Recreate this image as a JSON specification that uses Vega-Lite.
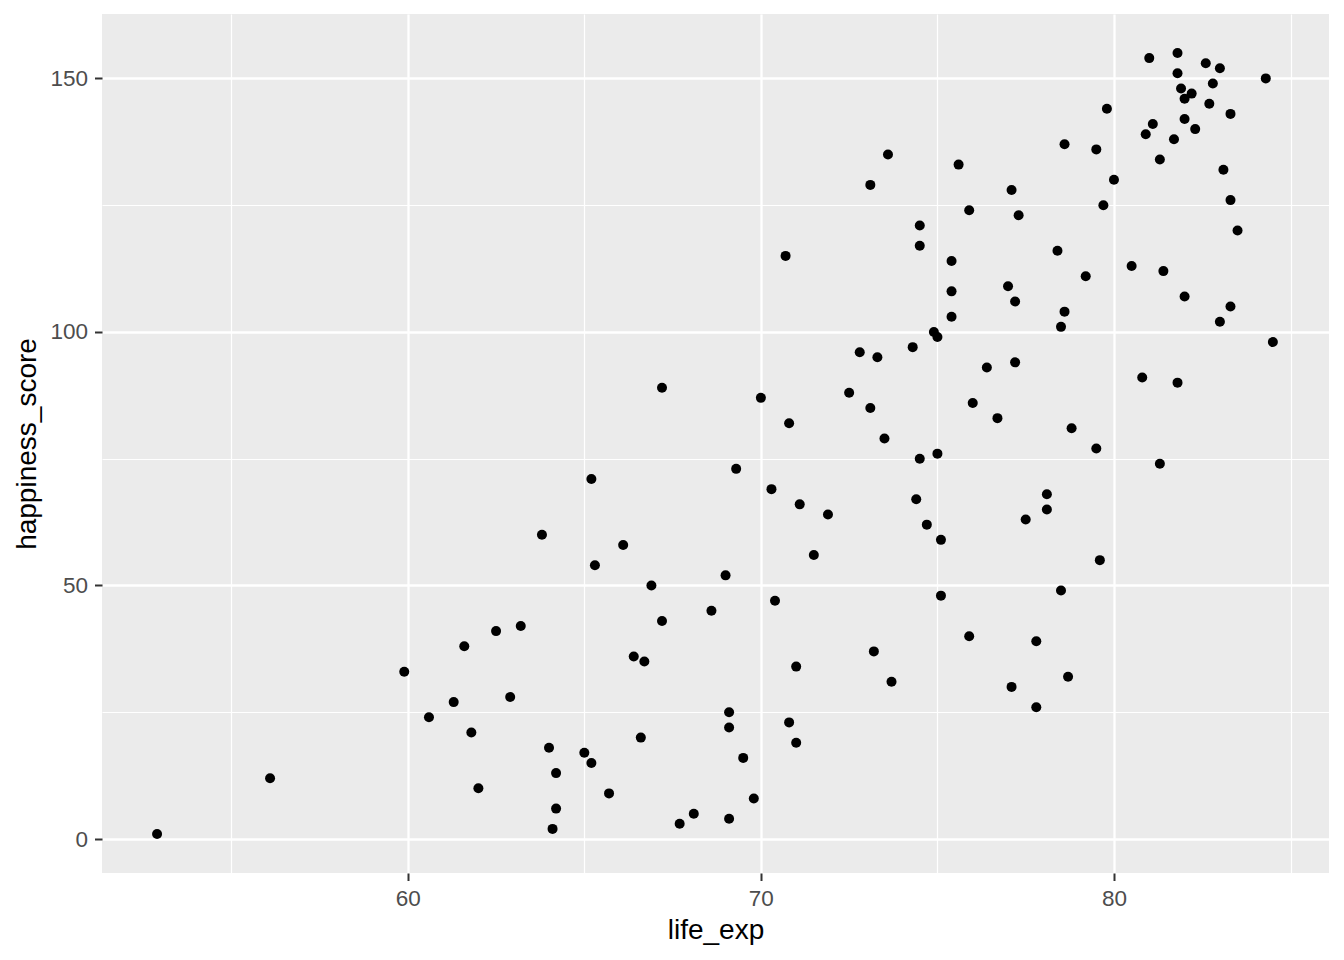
{
  "$schema": "https://vega.github.io/schema/vega-lite/v6.json",
  "width": 1227,
  "height": 859,
  "autosize": {"type": "none"},
  "padding": {"left": 102, "top": 14, "right": 15, "bottom": 87},
  "background": "white",
  "config": {
    "view": {"fill": "#EBEBEB", "stroke": null},
    "font": "Liberation Sans"
  },
  "data": {
    "values": [
      {"life_exp": 52.9, "happiness_score": 1},
      {"life_exp": 56.1, "happiness_score": 12},
      {"life_exp": 59.9, "happiness_score": 33},
      {"life_exp": 60.6, "happiness_score": 24},
      {"life_exp": 61.3, "happiness_score": 27},
      {"life_exp": 61.6, "happiness_score": 38},
      {"life_exp": 61.8, "happiness_score": 21},
      {"life_exp": 62.0, "happiness_score": 10},
      {"life_exp": 62.5, "happiness_score": 41},
      {"life_exp": 62.9, "happiness_score": 28},
      {"life_exp": 63.2, "happiness_score": 42},
      {"life_exp": 63.8, "happiness_score": 60},
      {"life_exp": 64.0, "happiness_score": 18},
      {"life_exp": 64.2, "happiness_score": 13},
      {"life_exp": 64.2, "happiness_score": 6},
      {"life_exp": 64.1, "happiness_score": 2},
      {"life_exp": 65.0, "happiness_score": 17},
      {"life_exp": 65.2, "happiness_score": 15},
      {"life_exp": 65.2, "happiness_score": 71},
      {"life_exp": 65.3, "happiness_score": 54},
      {"life_exp": 65.7, "happiness_score": 9},
      {"life_exp": 66.1, "happiness_score": 58},
      {"life_exp": 66.4, "happiness_score": 36},
      {"life_exp": 66.6, "happiness_score": 20},
      {"life_exp": 66.7, "happiness_score": 35},
      {"life_exp": 66.9, "happiness_score": 50},
      {"life_exp": 67.2, "happiness_score": 89},
      {"life_exp": 67.2, "happiness_score": 43},
      {"life_exp": 67.7, "happiness_score": 3},
      {"life_exp": 68.1, "happiness_score": 5},
      {"life_exp": 68.6, "happiness_score": 45},
      {"life_exp": 69.0, "happiness_score": 52},
      {"life_exp": 69.1, "happiness_score": 25},
      {"life_exp": 69.1, "happiness_score": 22},
      {"life_exp": 69.1, "happiness_score": 4},
      {"life_exp": 69.3, "happiness_score": 73},
      {"life_exp": 69.5, "happiness_score": 16},
      {"life_exp": 69.8, "happiness_score": 8},
      {"life_exp": 70.0, "happiness_score": 87},
      {"life_exp": 70.4, "happiness_score": 47},
      {"life_exp": 70.7, "happiness_score": 115},
      {"life_exp": 70.8, "happiness_score": 82},
      {"life_exp": 70.8, "happiness_score": 23},
      {"life_exp": 71.0, "happiness_score": 34},
      {"life_exp": 71.0, "happiness_score": 19},
      {"life_exp": 70.3, "happiness_score": 69},
      {"life_exp": 71.1, "happiness_score": 66},
      {"life_exp": 71.5, "happiness_score": 56},
      {"life_exp": 71.9, "happiness_score": 64},
      {"life_exp": 72.5, "happiness_score": 88},
      {"life_exp": 72.8, "happiness_score": 96},
      {"life_exp": 73.1, "happiness_score": 85},
      {"life_exp": 73.1, "happiness_score": 129},
      {"life_exp": 73.2, "happiness_score": 37},
      {"life_exp": 73.3, "happiness_score": 95},
      {"life_exp": 73.5, "happiness_score": 79},
      {"life_exp": 73.6, "happiness_score": 135},
      {"life_exp": 73.7, "happiness_score": 31},
      {"life_exp": 74.3, "happiness_score": 97},
      {"life_exp": 74.4, "happiness_score": 67},
      {"life_exp": 74.5, "happiness_score": 121},
      {"life_exp": 74.5, "happiness_score": 117},
      {"life_exp": 74.5, "happiness_score": 75},
      {"life_exp": 74.7, "happiness_score": 62},
      {"life_exp": 74.9, "happiness_score": 100},
      {"life_exp": 75.0, "happiness_score": 99},
      {"life_exp": 75.0, "happiness_score": 76},
      {"life_exp": 75.1, "happiness_score": 59},
      {"life_exp": 75.1, "happiness_score": 48},
      {"life_exp": 75.4, "happiness_score": 114},
      {"life_exp": 75.4, "happiness_score": 108},
      {"life_exp": 75.4, "happiness_score": 103},
      {"life_exp": 75.6, "happiness_score": 133},
      {"life_exp": 75.9, "happiness_score": 124},
      {"life_exp": 75.9, "happiness_score": 40},
      {"life_exp": 76.0, "happiness_score": 86},
      {"life_exp": 76.4, "happiness_score": 93},
      {"life_exp": 76.7, "happiness_score": 83},
      {"life_exp": 77.0, "happiness_score": 109},
      {"life_exp": 77.1, "happiness_score": 128},
      {"life_exp": 77.1, "happiness_score": 30},
      {"life_exp": 77.2, "happiness_score": 106},
      {"life_exp": 77.2, "happiness_score": 94},
      {"life_exp": 77.3, "happiness_score": 123},
      {"life_exp": 77.5, "happiness_score": 63},
      {"life_exp": 77.8, "happiness_score": 39},
      {"life_exp": 77.8, "happiness_score": 26},
      {"life_exp": 78.1, "happiness_score": 68},
      {"life_exp": 78.1, "happiness_score": 65},
      {"life_exp": 78.4, "happiness_score": 116},
      {"life_exp": 78.5, "happiness_score": 101},
      {"life_exp": 78.5, "happiness_score": 49},
      {"life_exp": 78.6, "happiness_score": 104},
      {"life_exp": 78.6, "happiness_score": 137},
      {"life_exp": 78.7, "happiness_score": 32},
      {"life_exp": 78.8, "happiness_score": 81},
      {"life_exp": 79.2, "happiness_score": 111},
      {"life_exp": 79.5, "happiness_score": 77},
      {"life_exp": 79.5, "happiness_score": 136},
      {"life_exp": 79.6, "happiness_score": 55},
      {"life_exp": 79.7, "happiness_score": 125},
      {"life_exp": 79.8, "happiness_score": 144},
      {"life_exp": 80.0, "happiness_score": 130},
      {"life_exp": 80.5, "happiness_score": 113},
      {"life_exp": 80.8, "happiness_score": 91},
      {"life_exp": 80.9, "happiness_score": 139},
      {"life_exp": 81.0, "happiness_score": 154},
      {"life_exp": 81.1, "happiness_score": 141},
      {"life_exp": 81.3, "happiness_score": 74},
      {"life_exp": 81.3, "happiness_score": 134},
      {"life_exp": 81.4, "happiness_score": 112},
      {"life_exp": 81.7, "happiness_score": 138},
      {"life_exp": 81.8, "happiness_score": 155},
      {"life_exp": 81.8, "happiness_score": 151},
      {"life_exp": 81.8, "happiness_score": 90},
      {"life_exp": 81.9, "happiness_score": 148},
      {"life_exp": 82.0, "happiness_score": 142},
      {"life_exp": 82.0, "happiness_score": 107},
      {"life_exp": 82.0, "happiness_score": 146},
      {"life_exp": 82.2, "happiness_score": 147},
      {"life_exp": 82.3, "happiness_score": 140},
      {"life_exp": 82.6, "happiness_score": 153},
      {"life_exp": 82.7, "happiness_score": 145},
      {"life_exp": 82.8, "happiness_score": 149},
      {"life_exp": 83.0, "happiness_score": 152},
      {"life_exp": 83.0, "happiness_score": 102},
      {"life_exp": 83.1, "happiness_score": 132},
      {"life_exp": 83.3, "happiness_score": 126},
      {"life_exp": 83.3, "happiness_score": 105},
      {"life_exp": 83.3, "happiness_score": 143},
      {"life_exp": 83.5, "happiness_score": 120},
      {"life_exp": 84.3, "happiness_score": 150},
      {"life_exp": 84.5, "happiness_score": 98}
    ]
  },
  "mark": {"type": "circle", "color": "black", "opacity": 1, "size": 100},
  "encoding": {
    "x": {
      "field": "life_exp",
      "type": "quantitative",
      "scale": {"domain": [51.34, 86.09], "nice": false, "zero": false},
      "axis": {
        "title": "life_exp",
        "values": [55, 60, 65, 70, 75, 80, 85],
        "labelExpr": "datum.value % 10 === 0 ? datum.label : ''",
        "domain": false,
        "grid": true,
        "gridColor": "white",
        "gridWidth": {"condition": {"test": "datum.value % 10 === 0", "value": 2.3}, "value": 1.2},
        "tickColor": "#333333",
        "tickWidth": 2,
        "tickSize": 7.5,
        "tickOpacity": {"condition": {"test": "datum.value % 10 === 0", "value": 1}, "value": 0},
        "labelColor": "#4D4D4D",
        "labelFontSize": 22.5,
        "labelPadding": 7,
        "labelFont": "Liberation Sans",
        "titleFont": "Liberation Sans",
        "titleFontSize": 28,
        "titleFontWeight": "normal",
        "titleColor": "black",
        "titlePadding": 6
      }
    },
    "y": {
      "field": "happiness_score",
      "type": "quantitative",
      "scale": {"domain": [-6.7, 162.7], "nice": false, "zero": false},
      "axis": {
        "title": "happiness_score",
        "values": [0, 25, 50, 75, 100, 125, 150],
        "labelExpr": "datum.value % 50 === 0 ? datum.label : ''",
        "domain": false,
        "grid": true,
        "gridColor": "white",
        "gridWidth": {"condition": {"test": "datum.value % 50 === 0", "value": 2.3}, "value": 1.2},
        "tickColor": "#333333",
        "tickWidth": 2,
        "tickSize": 7.5,
        "tickOpacity": {"condition": {"test": "datum.value % 50 === 0", "value": 1}, "value": 0},
        "labelColor": "#4D4D4D",
        "labelFontSize": 22.5,
        "labelPadding": 7,
        "labelFont": "Liberation Sans",
        "titleFont": "Liberation Sans",
        "titleFontSize": 28,
        "titleFontWeight": "normal",
        "titleColor": "black",
        "titlePadding": 8
      }
    }
  }
}
